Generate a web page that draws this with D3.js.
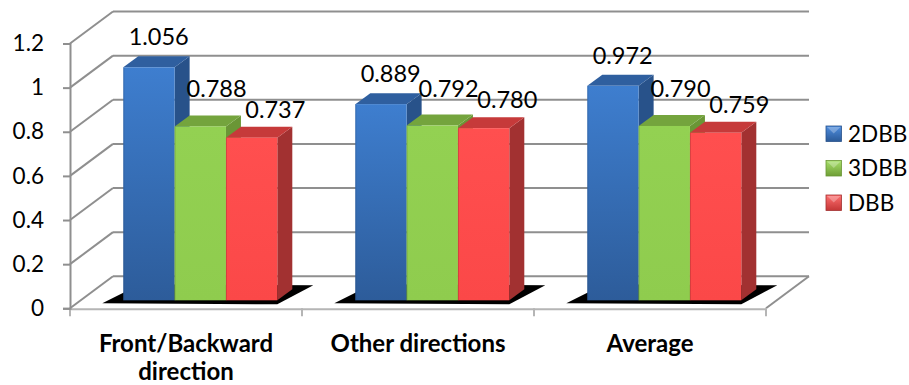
<!DOCTYPE html>
<html>
<head>
<meta charset="utf-8">
<script src="https://cdn.jsdelivr.net/npm/d3@7/dist/d3.min.js"></script>
<style>
  html, body { margin: 0; padding: 0; background: #fff; }
  svg { display: block; font-family: Lato, "Open Sans", sans-serif; }
</style>
</head>
<body>
<svg id="chart" width="909" height="385"></svg>
<script>
// Chart data
const categories = ["Front/Backward direction", "Other directions", "Average"];
const seriesNames = ["2DBB", "3DBB", "DBB"];
const values2DBB = [1.056, 0.889, 0.972];
const values3DBB = [0.788, 0.792, 0.790];
const valuesDBB = [0.737, 0.780, 0.759];
const yTicks = [0, 0.2, 0.4, 0.6, 0.8, 1, 1.2];
const yTickLabels = ["0", "0.2", "0.4", "0.6", "0.8", "1", "1.2"];

const seriesValues = [values2DBB, values3DBB, valuesDBB];

// Face colours per series: front gradient (top, bottom), top face, side face
const palette = [
  { front: ["#3e7ecf", "#2d5c9a"], top: "#2f5f9f", side: "#28528a", legend: ["#4f8ee0", "#2b5a98"] },
  { front: ["#93d152", "#8fcc4e"], top: "#74a43d", side: "#6a9636", legend: ["#a7e06a", "#6f9e36"] },
  { front: ["#ff4f4f", "#fb4848"], top: "#c63a3a", side: "#a23131", legend: ["#ff7070", "#c43636"] }
];

const svg = d3.select("#chart");
const defs = svg.append("defs");
palette.forEach((p, i) => {
  const g = defs.append("linearGradient").attr("id", "front" + i)
    .attr("x1", 0).attr("y1", 0).attr("x2", 0).attr("y2", 1);
  g.append("stop").attr("offset", "0%").attr("stop-color", p.front[0]);
  g.append("stop").attr("offset", "100%").attr("stop-color", p.front[1]);
  const l = defs.append("linearGradient").attr("id", "legend" + i)
    .attr("x1", 0).attr("y1", 0).attr("x2", 0).attr("y2", 1);
  l.append("stop").attr("offset", "0%").attr("stop-color", p.legend[0]);
  l.append("stop").attr("offset", "100%").attr("stop-color", p.legend[1]);
});

// Projection: front plane plus a receding depth offset
const frontLeft = 70, frontRight = 766;
const wallDx = 43, wallDy = -32;      // full depth of the plot box
const barDepthDx = 15, barDepthDy = -11; // depth of each column
const barInset = 0.25;                 // columns stand a quarter into the floor

const y = d3.scaleLinear().domain([0, 1.2]).range([308.3, 43.5]);
const yBar = v => y(v) + wallDy * barInset;

const x0 = d3.scaleBand().domain(categories).range([frontLeft, frontRight]);
const groupOffset = 53.3, groupWidth = 154;
const x1 = d3.scaleBand().domain(seriesNames).range([0, groupWidth]);
const barX = (ci, si) => x0(categories[ci]) + groupOffset + x1(seriesNames[si]);

const gridColor = "#8f8f8f";

// Back wall gridlines and side wall diagonals
const grid = svg.append("g");
yTicks.forEach(t => {
  grid.append("line")
    .attr("x1", frontLeft + wallDx).attr("x2", frontRight + wallDx)
    .attr("y1", y(t) + wallDy).attr("y2", y(t) + wallDy)
    .attr("stroke", gridColor).attr("stroke-width", 2);
  grid.append("line")
    .attr("x1", frontLeft).attr("y1", y(t))
    .attr("x2", frontLeft + wallDx).attr("y2", y(t) + wallDy)
    .attr("stroke", gridColor).attr("stroke-width", 2);
});

// Floor right edge and front edge
grid.append("line")
  .attr("x1", frontRight).attr("y1", y(0))
  .attr("x2", frontRight + wallDx).attr("y2", y(0) + wallDy)
  .attr("stroke", gridColor).attr("stroke-width", 2);
grid.append("line")
  .attr("x1", frontLeft).attr("y1", y(0) + 1)
  .attr("x2", frontRight).attr("y2", y(0) + 1)
  .attr("stroke", "#b5b5b5").attr("stroke-width", 2);

// Category tick marks along the front edge
const catEdges = categories.map(c => x0(c)).concat([frontRight]);
grid.selectAll("line.cat").data(catEdges).enter().append("line")
  .attr("x1", d => d).attr("x2", d => d)
  .attr("y1", y(0)).attr("y2", y(0) + 8)
  .attr("stroke", "#b5b5b5").attr("stroke-width", 2);

// Value axis
const yAxis = d3.axisLeft(y).tickValues(yTicks)
  .tickFormat((d, i) => yTickLabels[i]).tickSize(7).tickPadding(19);
const axisG = svg.append("g").attr("transform", `translate(${frontLeft},0)`).call(yAxis);
axisG.select(".domain").attr("stroke", gridColor).attr("stroke-width", 2);
axisG.selectAll(".tick line").attr("stroke", gridColor).attr("stroke-width", 2);
axisG.selectAll(".tick text").attr("font-size", 22.5).attr("fill", "#000")
  .attr("font-family", "Lato, sans-serif");

// Floor shadows under each column group
const shadowG = svg.append("g");
categories.forEach((c, ci) => {
  const gl = barX(ci, 0);
  const gr = barX(ci, seriesNames.length - 1) + x1.bandwidth();
  const y0 = yBar(0);
  const pts = [[gl - 21, y0 + 3], [gr, y0 + 4], [gr + 36, y0 - 15], [gl + 17, y0 - 16]];
  shadowG.append("polygon").attr("points", pts.map(p => p.join(",")).join(" "))
    .attr("fill", "#000");
});

// Columns: side, top, then front face
const barsG = svg.append("g");
categories.forEach((c, ci) => {
  seriesNames.forEach((s, si) => {
    const v = seriesValues[si][ci];
    const xl = barX(ci, si), xr = xl + x1.bandwidth();
    const yt = yBar(v), yb = yBar(0);
    const dx = barDepthDx, dy = barDepthDy;
    const g = barsG.append("g");
    g.append("polygon")
      .attr("points", [[xr, yt], [xr + dx, yt + dy], [xr + dx, yb + dy], [xr, yb]].map(p => p.join(",")).join(" "))
      .attr("fill", palette[si].side);
    g.append("polygon")
      .attr("points", [[xl, yt], [xl + dx, yt + dy], [xr + dx, yt + dy], [xr, yt]].map(p => p.join(",")).join(" "))
      .attr("fill", palette[si].top);
    g.append("rect")
      .attr("x", xl).attr("y", yt).attr("width", xr - xl).attr("height", yb - yt)
      .attr("fill", `url(#front${si})`);
    g.append("line").attr("x1", xl + 0.5).attr("x2", xl + 0.5).attr("y1", yt).attr("y2", yb)
      .attr("stroke", d3.color(palette[si].side).darker(0.3)).attr("stroke-opacity", 0.35);
  });
});

// Value labels above each column
const labelShift = [{ dx: 9.7, dy: 11 }, { dx: 16.3, dy: 18 }, { dx: 23.7, dy: 9 }];
const fmt = d3.format(".3f");
const labelsG = svg.append("g");
categories.forEach((c, ci) => {
  seriesNames.forEach((s, si) => {
    const v = seriesValues[si][ci];
    const cx = barX(ci, si) + x1.bandwidth() / 2 + labelShift[si].dx;
    labelsG.append("text")
      .attr("x", cx).attr("y", yBar(v) + barDepthDy - labelShift[si].dy)
      .attr("text-anchor", "middle").attr("font-size", 23.5).attr("fill", "#000")
      .text(fmt(v));
  });
});

// Category labels, wrapped to the band width
const catG = svg.append("g");
categories.forEach(c => {
  const cx = x0(c) + x0.bandwidth() / 2;
  const t = catG.append("text")
    .attr("x", cx).attr("y", 351.5)
    .attr("text-anchor", "middle").attr("font-size", 24).attr("font-weight", "bold").attr("fill", "#000");
  const words = c.split(" ");
  let line = [];
  let tspan = t.append("tspan").attr("x", cx).attr("dy", 0);
  words.forEach(w => {
    line.push(w);
    tspan.text(line.join(" "));
    if (tspan.node().getComputedTextLength() > 215 && line.length > 1) {
      line.pop();
      tspan.text(line.join(" "));
      line = [w];
      tspan = t.append("tspan").attr("x", cx).attr("dy", 28).text(w);
    }
  });
});

// Legend
const legendY = d3.scalePoint().domain(seriesNames).range([126, 195]);
const legendG = svg.append("g");
seriesNames.forEach((s, si) => {
  const top = legendY(s);
  const g = legendG.append("g").attr("transform", `translate(826,${top})`);
  g.append("rect").attr("width", 15.5).attr("height", 15.5).attr("fill", `url(#legend${si})`)
    .attr("stroke", palette[si].side).attr("stroke-width", 0.8);
  g.append("polygon").attr("points", "1,1 14.5,1 7.75,7.5")
    .attr("fill", "#fff").attr("fill-opacity", 0.28);
  g.append("text").attr("x", 22).attr("y", 15.7)
    .attr("font-size", 22.5).attr("fill", "#000").text(s);
});
</script>
</body>
</html>
